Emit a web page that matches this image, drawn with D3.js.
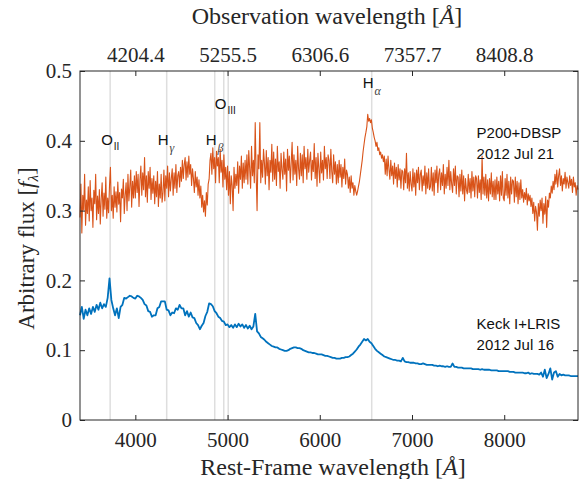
<!DOCTYPE html>
<html>
<head>
<meta charset="utf-8">
<script src="https://cdn.jsdelivr.net/npm/d3@7"></script>
<style>
body { margin: 0; background: #fff; }
</style>
</head>
<body>
<svg id="chart" width="584" height="479"></svg>
<script>
// P200 spectrum: 10 A rest-frame grid from 3400 A, one row per 100 A
const p200Start = 3400, p200Step = 10;
const fluxP200 = [
    .290,.338,.268,.322,.301,.352,.279,.315,.296,.334, // 3400
    .285,.343,.300,.318,.276,.329,.310,.352,.287,.321, // 3500
    .296,.330,.281,.317,.340,.292,.325,.302,.348,.289, // 3600
    .318,.297,.336,.362,.300,.322,.289,.334,.305,.327, // 3700
    .298,.341,.309,.326,.284,.331,.318,.345,.296,.322, // 3800
    .340,.300,.352,.314,.334,.358,.305,.342,.318,.350, // 3900
    .318,.356,.326,.352,.306,.344,.364,.322,.354,.330, // 4000
    .376,.320,.350,.312,.356,.332,.362,.316,.346,.325, // 4100
    .350,.310,.342,.320,.356,.306,.338,.318,.352,.312, // 4200
    .326,.358,.314,.350,.332,.364,.320,.354,.328,.346, // 4300
    .360,.322,.354,.332,.366,.326,.350,.356,.334,.362, // 4400
    .342,.372,.346,.366,.376,.344,.370,.348,.378,.352, // 4500
    .366,.336,.360,.346,.326,.356,.334,.348,.322,.344, // 4600
    .318,.335,.305,.322,.298,.314,.292,.326,.308,.338, // 4700
    .345,.372,.382,.352,.390,.360,.376,.340,.385,.364, // 4800
    .376,.340,.388,.355,.372,.334,.380,.345,.362,.330, // 4900
    .364,.322,.356,.310,.350,.336,.300,.362,.332,.352, // 5000
    .336,.370,.325,.364,.345,.378,.332,.368,.340,.372, // 5100
    .345,.380,.338,.386,.360,.332,.392,.350,.372,.340, // 5200
    .426,.352,.300,.380,.360,.426,.340,.372,.348,.388, // 5300
    .368,.338,.386,.350,.376,.330,.372,.355,.395,.342, // 5400
    .384,.345,.374,.336,.392,.356,.370,.332,.382,.358, // 5500
    .345,.384,.352,.374,.328,.388,.358,.378,.340,.368, // 5600
    .398,.344,.380,.352,.372,.336,.392,.360,.345,.382, // 5700
    .350,.380,.340,.392,.360,.376,.345,.388,.355,.372, // 5800
    .384,.344,.372,.356,.396,.346,.376,.335,.382,.360, // 5900
    .340,.384,.354,.372,.344,.392,.360,.376,.346,.380, // 6000
    .372,.346,.388,.356,.340,.380,.352,.370,.338,.366, // 6100
    .340,.372,.348,.366,.334,.362,.346,.374,.338,.358, // 6200
    .352,.332,.348,.326,.350,.332,.340,.322,.336,.328, // 6300
    .322,.328,.335,.342,.352,.362,.372,.385,.395,.405, // 6400
    .412,.420,.438,.428,.432,.426,.430,.418,.412,.405, // 6500
    .400,.392,.398,.386,.390,.380,.384,.375,.380,.370, // 6600
    .378,.352,.374,.350,.378,.360,.345,.372,.350,.364, // 6700
    .338,.368,.346,.362,.334,.366,.344,.360,.332,.358, // 6800
    .356,.330,.360,.340,.382,.332,.354,.328,.356,.338, // 6900
    .328,.360,.334,.354,.322,.358,.340,.362,.330,.352, // 7000
    .358,.328,.350,.336,.364,.324,.354,.332,.360,.330, // 7100
    .334,.362,.328,.354,.322,.358,.340,.364,.326,.352, // 7200
    .360,.330,.354,.336,.366,.324,.352,.332,.362,.336, // 7300
    .372,.330,.356,.338,.326,.360,.336,.364,.324,.350, // 7400
    .348,.320,.352,.328,.358,.324,.350,.314,.346,.330, // 7500
    .324,.352,.326,.346,.318,.356,.328,.348,.320,.350, // 7600
    .346,.318,.350,.326,.344,.316,.378,.324,.348,.322, // 7700
    .352,.318,.344,.314,.346,.324,.354,.320,.342,.316, // 7800
    .344,.316,.348,.324,.342,.314,.350,.322,.356,.318, // 7900
    .314,.346,.322,.352,.318,.342,.310,.348,.324,.344, // 8000
    .342,.312,.348,.320,.342,.310,.340,.316,.344,.318, // 8100
    .330,.312,.326,.316,.332,.308,.324,.314,.322,.306, // 8200
    .318,.296,.312,.285,.306,.298,.272,.310,.292,.315, // 8300
    .300,.318,.282,.310,.295,.320,.276,.315,.305,.325, // 8400
    .318,.335,.325,.342,.330,.352,.338,.358,.334,.350, // 8500
    .360,.336,.350,.328,.346,.338,.355,.332,.348,.340, // 8600
    .332,.350,.336,.345,.326,.348,.334,.340,.322,.336, // 8700
    .330                                               // 8800
];

// Keck spectrum: 20 A rest-frame grid from 3400 A, one row per 200 A
const keckStart = 3400, keckStep = 20;
const fluxKeck = [
    0.150,0.162,0.145,0.158,0.150,0.160,0.152,0.162,0.155,0.165, // 3400
    0.158,0.168,0.160,0.166,0.162,0.175,0.203,0.172,0.160,0.150, // 3600
    0.160,0.146,0.162,0.165,0.175,0.174,0.176,0.178,0.177,0.175, // 3800
    0.174,0.178,0.177,0.175,0.172,0.166,0.164,0.156,0.155,0.148, // 4000
    0.150,0.150,0.160,0.162,0.170,0.170,0.170,0.158,0.157,0.150, // 4200
    0.154,0.153,0.160,0.158,0.165,0.160,0.160,0.150,0.156,0.148, // 4400
    0.154,0.147,0.146,0.139,0.136,0.130,0.135,0.139,0.149,0.155, // 4600
    0.167,0.166,0.163,0.156,0.153,0.148,0.146,0.142,0.141,0.136, // 4800
    0.137,0.133,0.136,0.132,0.137,0.133,0.138,0.134,0.137,0.132, // 5000
    0.136,0.131,0.135,0.130,0.134,0.152,0.127,0.124,0.119,0.117, // 5200
    0.115,0.112,0.110,0.108,0.106,0.105,0.104,0.104,0.102,0.101, // 5400
    0.100,0.099,0.099,0.100,0.102,0.103,0.104,0.104,0.103,0.103, // 5600
    0.102,0.100,0.099,0.098,0.097,0.097,0.096,0.096,0.095,0.094, // 5800
    0.094,0.094,0.093,0.092,0.092,0.091,0.090,0.089,0.089,0.088, // 6000
    0.088,0.088,0.089,0.089,0.090,0.090,0.091,0.093,0.095,0.098, // 6200
    0.101,0.105,0.108,0.112,0.116,0.114,0.116,0.112,0.110,0.106, // 6400
    0.102,0.099,0.097,0.095,0.093,0.091,0.090,0.089,0.088,0.087, // 6600
    0.086,0.086,0.085,0.085,0.084,0.089,0.084,0.083,0.083,0.082, // 6800
    0.082,0.082,0.081,0.081,0.080,0.080,0.081,0.080,0.079,0.079, // 7000
    0.079,0.079,0.078,0.078,0.077,0.078,0.077,0.077,0.076,0.077, // 7200
    0.076,0.076,0.081,0.076,0.076,0.075,0.075,0.075,0.074,0.074, // 7400
    0.074,0.074,0.074,0.073,0.073,0.073,0.073,0.072,0.073,0.072, // 7600
    0.072,0.072,0.072,0.071,0.071,0.071,0.071,0.070,0.070,0.070, // 7800
    0.070,0.070,0.070,0.069,0.069,0.069,0.068,0.068,0.068,0.068, // 8000
    0.068,0.067,0.067,0.068,0.066,0.067,0.066,0.066,0.066,0.065, // 8200
    0.068,0.062,0.072,0.060,0.066,0.074,0.058,0.068,0.070,0.062, // 8400
    0.066,0.064,0.065,0.064,0.064,0.064,0.063,0.063,0.063,0.063, // 8600
    0.063                                                        // 8800
];

// emission lines (rest wavelength) and their labels
const lineWaves = [3727, 4340, 4861, 4959, 5007, 6563];
const labelWaves = [3727, 4340, 4861, 4959, 6563];
const labelMain = ["O", "H", "H", "O", "H"];
const labelSub = ["II", "\u03B3", "\u03B2", "III", "\u03B1"];
const labelFlux = [0.394, 0.394, 0.394, 0.446, 0.476];

const legendText = [["P200+DBSP", "2012 Jul 21"], ["Keck I+LRIS", "2012 Jul 16"]];
const legendFlux = [0.404, 0.130];

const xTicks = [4000, 5000, 6000, 7000, 8000];
const topTickLabels = ["4204.4", "5255.5", "6306.6", "7357.7", "8408.8"];
const yTicks = [0, 0.1, 0.2, 0.3, 0.4, 0.5];

const svg = d3.select("#chart");
const margin = {left: 80, right: 6, top: 71, bottom: 59};
const W = 584, H = 479;
const serif = "'Liberation Serif', 'Times New Roman', serif";
const sans = "'Liberation Sans', Arial, sans-serif";

const x = d3.scaleLinear().domain([3400, 8800]).range([margin.left, W - margin.right]);
const y = d3.scaleLinear().domain([0, 0.5]).range([H - margin.bottom, margin.top]);

// grey marker lines
svg.append("g").selectAll("line")
    .data(lineWaves)
    .enter().append("line")
    .attr("x1", d => x(d)).attr("x2", d => x(d))
    .attr("y1", y(0)).attr("y2", y(0.5))
    .attr("stroke", "#dedede")
    .attr("stroke-width", 1.5);

function spectrumLine(start, step) {
    return d3.line()
        .x((d, i) => x(start + i * step))
        .y(d => y(d));
}

svg.append("path").datum(fluxP200)
    .attr("d", spectrumLine(p200Start, p200Step))
    .attr("fill", "none")
    .attr("stroke", "#D95319")
    .attr("stroke-width", 1.1)
    .attr("stroke-linejoin", "round");

svg.append("path").datum(fluxKeck)
    .attr("d", spectrumLine(keckStart, keckStep))
    .attr("fill", "none")
    .attr("stroke", "#0072BD")
    .attr("stroke-width", 1.8)
    .attr("stroke-linejoin", "round");

// axes, MATLAB style: ticks pointing in, full box
function styleAxis(g) {
    g.select(".domain").remove();
    g.selectAll("text").attr("font-family", serif).attr("font-size", 21).attr("fill", "#262626");
    g.selectAll("line").attr("stroke", "#262626");
}

svg.append("g")
    .attr("transform", "translate(0," + y(0) + ")")
    .call(d3.axisBottom(x).tickValues(xTicks).tickSize(-5).tickPadding(12).tickFormat(d3.format("d")))
    .call(styleAxis);

svg.append("g")
    .attr("transform", "translate(0," + y(0.5) + ")")
    .call(d3.axisTop(x).tickValues(xTicks).tickSize(-5).tickPadding(9)
        .tickFormat((d, i) => topTickLabels[i]))
    .call(styleAxis);

svg.append("g")
    .attr("transform", "translate(" + x(3400) + ",0)")
    .call(d3.axisLeft(y).tickValues(yTicks).tickSize(-5).tickPadding(8)
        .tickFormat(d => d === 0 ? "0" : d3.format(".1f")(d)))
    .call(styleAxis);

svg.append("g")
    .attr("transform", "translate(" + x(8800) + ",0)")
    .call(d3.axisRight(y).tickValues(yTicks).tickSize(-5).tickFormat(""))
    .call(styleAxis);

svg.append("rect")
    .attr("x", x(3400)).attr("y", y(0.5))
    .attr("width", x(8800) - x(3400)).attr("height", y(0) - y(0.5))
    .attr("fill", "none").attr("stroke", "#262626").attr("stroke-width", 1);

// line labels
const lab = svg.append("g").selectAll("text")
    .data(labelWaves)
    .enter().append("text")
    .attr("x", d => x(d) - 9)
    .attr("y", (d, i) => y(labelFlux[i]))
    .attr("font-family", sans)
    .attr("font-size", 15)
    .attr("fill", "#111");
lab.append("tspan").text((d, i) => labelMain[i]);
lab.append("tspan")
    .attr("dy", (d, i) => labelMain[i] === "O" ? 5 : 7)
    .attr("dx", 1)
    .attr("font-size", (d, i) => labelMain[i] === "O" ? 10 : 12)
    .attr("font-family", (d, i) => labelMain[i] === "O" ? sans : serif)
    .attr("font-style", (d, i) => labelMain[i] === "O" ? "normal" : "italic")
    .attr("fill", (d, i) => labelMain[i] === "O" ? "#111" : "#444")
    .text((d, i) => labelSub[i]);

// instrument labels
legendText.forEach((lines, k) => {
    lines.forEach((t, j) => {
        svg.append("text")
            .attr("x", x(7700))
            .attr("y", y(legendFlux[k]) + j * 20.5)
            .attr("font-family", sans)
            .attr("font-size", 15)
            .attr("fill", "#111")
            .text(t);
    });
});

// axis titles
const cx = (x(3400) + x(8800)) / 2;
const t1 = svg.append("text").attr("x", cx - 2).attr("y", 24)
    .attr("text-anchor", "middle").attr("font-family", serif).attr("font-size", 24).attr("fill", "#262626");
t1.append("tspan").text("Observation wavelength [");
t1.append("tspan").attr("font-style", "italic").text("\u00C5");
t1.append("tspan").text("]");

const t2 = svg.append("text").attr("x", cx + 4).attr("y", 475)
    .attr("text-anchor", "middle").attr("font-family", serif).attr("font-size", 24).attr("fill", "#262626");
t2.append("tspan").text("Rest-Frame wavelength [");
t2.append("tspan").attr("font-style", "italic").text("\u00C5");
t2.append("tspan").text("]");

const t3 = svg.append("text")
    .attr("transform", "translate(34," + ((y(0) + y(0.5)) / 2 + 3) + ") rotate(-90)")
    .attr("text-anchor", "middle").attr("font-family", serif).attr("font-size", 23).attr("fill", "#262626");
t3.append("tspan").text("Arbitrary flux [");
t3.append("tspan").attr("font-style", "italic").text("f");
t3.append("tspan").attr("font-style", "italic").attr("font-size", 15).attr("dy", 4).text("\u03BB");
t3.append("tspan").attr("dy", -4).text("]");
</script>
</body>
</html>
